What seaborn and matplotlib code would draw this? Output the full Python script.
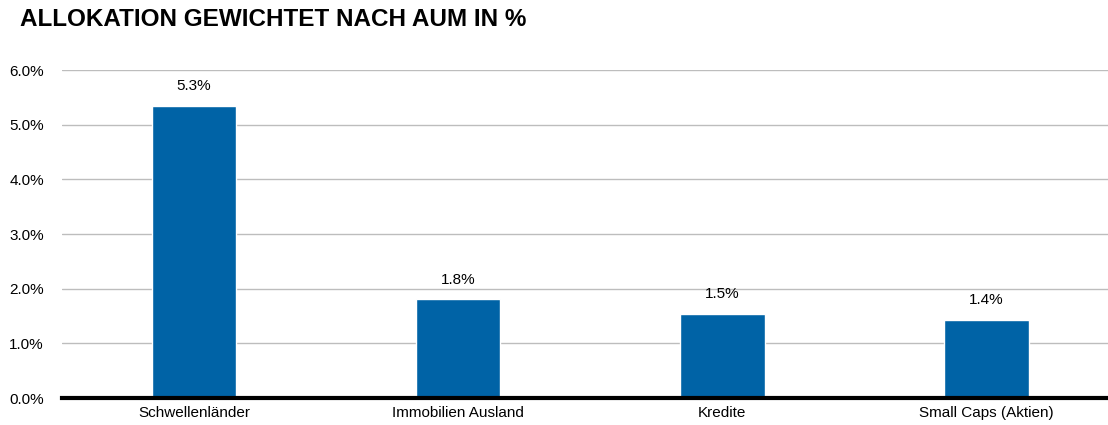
import numpy as np
import pandas as pd
import matplotlib
matplotlib.use("Agg")
import matplotlib.pyplot as plt
import seaborn as sns

# chart data
categories = ["Schwellenländer", "Immobilien Ausland", "Kredite", "Small Caps (Aktien)"]
values = [5.35, 1.81, 1.54, 1.43]
value_labels = ["5.3%", "1.8%", "1.5%", "1.4%"]
y_ticks = [0, 1, 2, 3, 4, 5, 6]
y_tick_labels = ["0.0%", "1.0%", "2.0%", "3.0%", "4.0%", "5.0%", "6.0%"]

sns.set_style("white")
plt.rcParams["font.family"] = ["Liberation Sans", "DejaVu Sans"]
plt.rcParams["text.color"] = "black"
plt.rcParams["xtick.color"] = "black"
plt.rcParams["ytick.color"] = "black"

df = pd.DataFrame({"category": categories, "value": values})

fig = plt.figure(figsize=(11.08, 4.25), dpi=100)
ax = fig.add_axes([62 / 1108, 27 / 425, 1046 / 1108, 328 / 425])

sns.barplot(data=df, x="category", y="value", color="#0063a6",
            width=0.32, saturation=1, ax=ax, zorder=3)

ax.set_xlim(-0.5, 3.46)
ax.set_ylim(0, 6)
ax.set_yticks(y_ticks)
ax.set_yticklabels(y_tick_labels, fontsize=11)
ax.tick_params(axis="x", labelsize=11, labelcolor="black", length=0, pad=6)
ax.tick_params(axis="y", labelcolor="black", length=0, pad=13)
ax.yaxis.grid(True, color="#bdbdbd", linewidth=1, zorder=0)
ax.set_xlabel("")
ax.set_ylabel("")

for s in ["top", "right", "left"]:
    ax.spines[s].set_visible(False)
ax.spines["bottom"].set_color("black")
ax.spines["bottom"].set_linewidth(3)
ax.spines["bottom"].set_zorder(5)

for i, (v, lab) in enumerate(zip(values, value_labels)):
    ax.annotate(lab, (i, v), xytext=(0, 9), textcoords="offset points",
                ha="center", va="bottom", fontsize=11, color="black")

fig.text(20 / 1108, 1 - 20 / 425, "ALLOKATION GEWICHTET NACH AUM IN %",
         fontsize=17.5, fontweight="bold", ha="left", va="center", color="black")

fig.savefig("out.png", dpi=100)
